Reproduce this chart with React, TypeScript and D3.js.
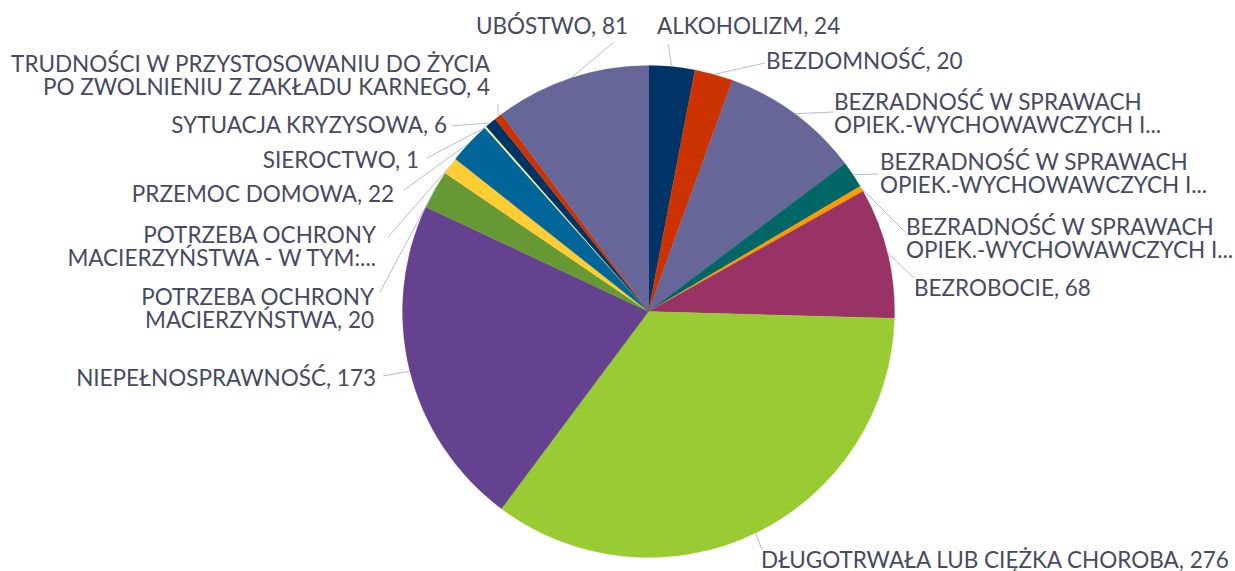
import React from "react";
import * as d3 from "d3";

const categories = [
  "ALKOHOLIZM",
  "BEZDOMNOŚĆ",
  "BEZRADNOŚĆ W SPRAWACH OPIEK.-WYCHOWAWCZYCH I PROWADZENIA GOSPODARSTWA DOMOWEGO",
  "BEZRADNOŚĆ W SPRAWACH OPIEK.-WYCHOWAWCZYCH I PROWADZENIA GOSPODARSTWA DOMOWEGO - RODZINY NIEPEŁNE",
  "BEZRADNOŚĆ W SPRAWACH OPIEK.-WYCHOWAWCZYCH I PROWADZENIA GOSPODARSTWA DOMOWEGO - RODZINY WIELODZIETNE",
  "BEZROBOCIE",
  "DŁUGOTRWAŁA LUB CIĘŻKA CHOROBA",
  "NIEPEŁNOSPRAWNOŚĆ",
  "POTRZEBA OCHRONY MACIERZYŃSTWA",
  "POTRZEBA OCHRONY MACIERZYŃSTWA - W TYM: WIELODZIETNOŚĆ",
  "PRZEMOC DOMOWA",
  "SIEROCTWO",
  "SYTUACJA KRYZYSOWA",
  "TRUDNOŚCI W PRZYSTOSOWANIU DO ŻYCIA PO ZWOLNIENIU Z ZAKŁADU KARNEGO",
  "UBÓSTWO",
];

const values = [24, 20, 73, 14, 3, 68, 276, 173, 20, 9, 22, 1, 6, 4, 81];

const palette = [
  "#003366", "#cc3300", "#666699", "#006666", "#ff9900",
  "#993366", "#99cc33", "#65428f", "#669933", "#ffcc33",
  "#006699", "#ffff99", "#003366", "#cc3300", "#666699",
];

// Displayed label text lines (truncated labels show no value)
const labelLines: string[][] = [
  ["ALKOHOLIZM"],
  ["BEZDOMNOŚĆ"],
  ["BEZRADNOŚĆ W SPRAWACH", "OPIEK.-WYCHOWAWCZYCH I..."],
  ["BEZRADNOŚĆ W SPRAWACH", "OPIEK.-WYCHOWAWCZYCH I..."],
  ["BEZRADNOŚĆ W SPRAWACH", "OPIEK.-WYCHOWAWCZYCH I..."],
  ["BEZROBOCIE"],
  ["DŁUGOTRWAŁA LUB CIĘŻKA CHOROBA"],
  ["NIEPEŁNOSPRAWNOŚĆ"],
  ["POTRZEBA OCHRONY", "MACIERZYŃSTWA"],
  ["POTRZEBA OCHRONY", "MACIERZYŃSTWA - W TYM:..."],
  ["PRZEMOC DOMOWA"],
  ["SIEROCTWO"],
  ["SYTUACJA KRYZYSOWA"],
  ["TRUDNOŚCI W PRZYSTOSOWANIU DO ŻYCIA", "PO ZWOLNIENIU Z ZAKŁADU KARNEGO"],
  ["UBÓSTWO"],
];
const truncated = [false, false, true, true, true, false, false, false, false, true, false, false, false, false, false];

// ---- layout (not data) ----
const W = 1235;
const H = 571;
const CX = 648.5;
const CY = 311.5;
const R = 246;
const FONT = 22.5;
const LINE = 23;

// label connection point (lx,ly), text x, first baseline y, anchor
const labelLayout = [
  { lx: 668, ly: 44, x: 657, y: 34, a: "start" },
  { lx: 765, ly: 63, x: 766, y: 69, a: "start" },
  { lx: 833, ly: 112, x: 834, y: 110, a: "start" },
  { lx: 879, ly: 174, x: 880, y: 170, a: "start" },
  { lx: 905, ly: 232, x: 906, y: 235, a: "start" },
  { lx: 914, ly: 278, x: 914, y: 296, a: "start" },
  { lx: 762, ly: 550, x: 761, y: 568, a: "start" },
  { lx: 383, ly: 376, x: 376, y: 386, a: "end" },
  { lx: 380, ly: 292, x: 374, y: 305, a: "end" },
  { lx: 388, ly: 237, x: 376, y: 243, a: "end" },
  { lx: 404, ly: 190, x: 394, y: 202, a: "end" },
  { lx: 427, ly: 158, x: 419, y: 168, a: "end" },
  { lx: 452, ly: 126, x: 447, y: 133, a: "end" },
  { lx: 498, ly: 104, x: 490, y: 72, a: "end" },
  { lx: 613, ly: 43, x: 628, y: 34, a: "end" },
];

export default function App() {
  const data = categories.map((c, i) => ({ c, v: values[i], i }));
  const pie = d3.pie<any>().value((d) => d.v).sort(null).startAngle(0).endAngle(2 * Math.PI);
  const arcs = pie(data);
  const arc = d3.arc<any>().innerRadius(0).outerRadius(R);

  return (
    <svg
      width={W}
      height={H}
      style={{ position: "absolute", left: 0, top: 0, background: "#fff" }}
      fontFamily="Lato, 'Open Sans', sans-serif"
    >
      <g transform={`translate(${CX},${CY})`}>
        {arcs.map((a, k) => (
          <path key={k} d={arc(a) as string} fill={palette[a.data.i]} stroke={palette[a.data.i]} strokeWidth={0.3} />
        ))}
      </g>
      {arcs.map((a, k) => {
        const i = a.data.i;
        const mid = (a.startAngle + a.endAngle) / 2;
        const sx = CX + R * Math.sin(mid);
        const sy = CY - R * Math.cos(mid);
        const L = labelLayout[i];
        return (
          <line key={"l" + k} x1={sx} y1={sy} x2={L.lx} y2={L.ly} stroke="#b3bfd1" strokeWidth={1} />
        );
      })}
      {arcs.map((a, k) => {
        const i = a.data.i;
        const L = labelLayout[i];
        const lines = labelLines[i].slice();
        if (!truncated[i]) lines[lines.length - 1] = `${lines[lines.length - 1]}, ${values[i]}`;
        return (
          <text key={"t" + k} x={L.x} y={L.y} textAnchor={L.a as any} fontSize={FONT} fill="#474a63">
            {lines.map((ln, j) => (
              <tspan key={j} x={L.x} dy={j === 0 ? 0 : LINE}>
                {ln}
              </tspan>
            ))}
          </text>
        );
      })}
    </svg>
  );
}
